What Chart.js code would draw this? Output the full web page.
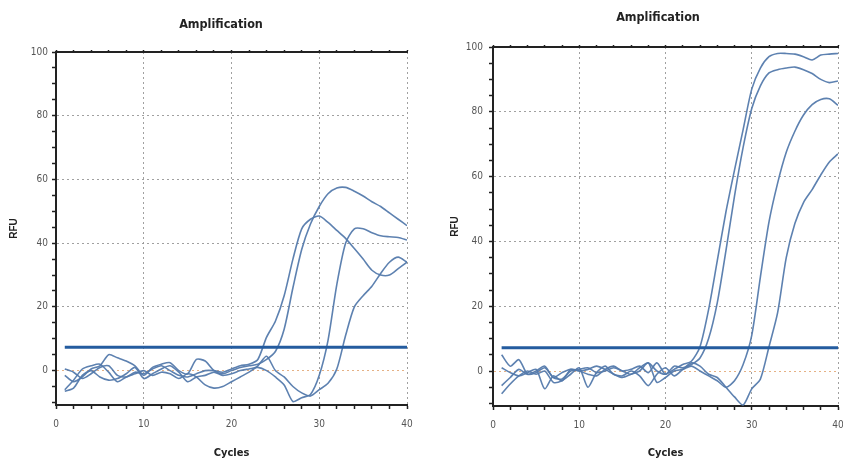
<!DOCTYPE html>
<html>
<head>
<meta charset="utf-8">
<script src="https://cdn.jsdelivr.net/npm/chart.js@4.4.1/dist/chart.umd.min.js"></script>
<style>
  html, body { margin: 0; padding: 0; background: #fff; }
  #wrap { position: relative; width: 843px; height: 466px; overflow: hidden; }
  canvas { position: absolute; top: 0; }
  #left { left: 0; }
  #right { left: 420px; }
</style>
</head>
<body>
<div id="wrap">
  <canvas id="left" width="420" height="466"></canvas>
  <canvas id="right" width="430" height="466"></canvas>
</div>
<script>
// cycle numbers and axis ticks
var cycles = [1, 2, 3, 4, 5, 6, 7, 8, 9, 10, 11, 12, 13, 14, 15, 16, 17, 18, 19, 20,
              21, 22, 23, 24, 25, 26, 27, 28, 29, 30, 31, 32, 33, 34, 35, 36, 37, 38, 39, 40];
var xTicks = [0, 2, 4, 6, 8, 10, 12, 14, 16, 18, 20, 22, 24, 26, 28, 30, 32, 34, 36, 38, 40];
var yTicks = [-10, -5, 0, 5, 10, 15, 20, 25, 30, 35, 40, 45, 50, 55, 60, 65, 70, 75, 80, 85, 90, 95, 100];

// left plot, RFU per cycle
var leftA = [0.5, -0.5, -2.5, -1, 1, 1.5, -1.5, -2, -0.5, -1, 0.5, 1.5, 0, -1.5, -2, -1, 0, 0, -0.5, 0.5, 1.5, 2,
             3.5, 10.5, 15.5, 23.5, 35, 44.5, 47.5, 48.5, 46.5, 44, 41.5, 38.3, 35, 31.5, 30, 30, 32, 34];
var leftB = [-1.5, -3.5, -2, 0.5, 1.5, 5, 4, 3, 1.5, -1.5, 1, 2, 2.5, 0, -1, 3.5, 3, 0, -1, 0, 1, 1.5,
             2, 3.5, 6, 13, 26, 38, 46, 51.5, 55.5, 57.3, 57.5, 56.3, 54.8, 53, 51.5, 49.5, 47.5, 45.5];
var leftC = [-6.5, -5.5, -1.5, 0, -2, -3, -2.5, -1, 1, -2.5, -1, 0.5, 1.5, -0.5, -3.5, -2, -1.5, -0.5, -1.5, -1, 0, 0.5,
             1, 0, -2, -4.5, -9.7, -8.5, -7.5, -1.5, 9.5, 27, 40, 44.5, 44.5, 43.3, 42.3, 42, 41.8, 41];
var leftD = [-6, -3, 0.5, 1.5, 2, -0.5, -3.5, -2, -1, 0, -1.5, -0.5, -1, -2.5, -1, -2, -4.5, -5.5, -5, -3.5, -2, -0.5,
             1.5, 4.5, 0, -2, -5, -7, -8, -6, -4, 0.5, 11, 20, 23.5, 26.5, 30.5, 34, 35.6, 34];
var leftThreshold = 7.3;

// right plot, RFU per cycle
var rightE = [5, 1.5, 3.5, -1, -0.5, 1, -2, -2.5, 0, 0.5, 1, -0.5, 0, 1, 0, -1, 1, 2.5, 0, -1, 0.5, 2, 3,
              7.5, 19, 34, 49, 62, 74.5, 87, 93.5, 97, 98, 98, 97.8, 97, 96, 97.5, 97.8, 98];
var rightF = [1, -0.5, -1.5, -0.5, 0.5, -5.5, -1.5, -3, 0.5, 0, -1, -1.5, 0.5, 1.5, 0, 0.5, 1.5, -0.5, 2.5, -1, 1.5, 1, 2,
              4, 10, 21, 37, 54, 69, 81, 88, 92, 93, 93.5, 93.8, 93, 91.8, 90, 89, 89.5];
var rightG = [-4.5, -2, 0.5, -1, 0, 1.5, -2, -0.5, 0.5, 0, 0.5, 1.5, 0.5, -1, -2, -1, 0, 2.5, -3.5, -2, 0, 0.5, 1.5,
              0, -1.5, -3, -5, -3, 2, 11, 29, 46, 58, 67.5, 74, 79, 82.2, 83.8, 84, 82];
var rightH = [-7, -4, -1.5, 0, -1, 0, -3.5, -3, -1, 1, -5, -0.5, 1.5, -1, -1.5, 0, -1.5, -4.5, -1, 1, -1.5, 0.5, 2.5,
              1.5, -1, -2, -5, -8, -10.5, -5.5, -2.5, 7.5, 18, 35, 45.5, 52, 56, 60.5, 64.5, 67];
var rightThreshold = 7.2;

var narrow = "'DejaVu Sans Condensed', 'Liberation Sans', sans-serif";
var curveColor = 'rgba(84, 122, 172, 0.95)';
var gridColor = 'rgba(150, 150, 150, 0.9)';
var zeroColor = 'rgba(226, 168, 120, 0.9)';

function makeChart(id, series, threshold, lay) {
  var datasets = [{
    data: [{ x: cycles[0], y: threshold }, { x: cycles[cycles.length - 1], y: threshold }],
    borderColor: '#245c9f',
    borderWidth: 3,
    pointRadius: 0
  }];
  series.forEach(function (s) {
    datasets.push({
      data: cycles.map(function (c, i) { return { x: c, y: s[i] }; }),
      borderColor: curveColor,
      borderWidth: 1.6,
      pointRadius: 0,
      tension: 0.25
    });
  });

  return new Chart(document.getElementById(id), {
    type: 'line',
    data: { datasets: datasets },
    options: {
      responsive: false,
      animation: false,
      devicePixelRatio: 1,
      layout: { padding: { left: lay.padLeft, right: lay.padRight, top: 0, bottom: 0 } },
      plugins: {
        legend: { display: false },
        tooltip: { enabled: false },
        title: {
          display: true,
          text: 'Amplification',
          color: '#222',
          font: { family: narrow, size: 12.5, weight: 'bold' },
          padding: { top: lay.titleTop, bottom: lay.titleBottom }
        }
      },
      scales: {
        x: {
          type: 'linear',
          min: 0,
          max: 40,
          afterBuildTicks: function (s) { s.ticks = xTicks.map(function (v) { return { value: v }; }); },
          afterFit: function (s) { s.height = lay.xHeight; s.paddingLeft = 0; s.paddingRight = 0; },
          ticks: {
            autoSkip: false,
            maxRotation: 0,
            padding: 9,
            color: '#555',
            font: { family: narrow, size: 10 },
            callback: function (v) { return v % 10 === 0 ? v : ''; }
          },
          grid: {
            color: function (ctx) { return ctx.tick && ctx.tick.value % 10 === 0 ? gridColor : 'rgba(0,0,0,0)'; },
            tickColor: '#222',
            tickLength: 4,
            tickWidth: 1.5
          },
          border: { display: true, color: '#222', width: 2, dash: [2, 3] },
          title: {
            display: true,
            text: 'Cycles',
            color: '#222',
            font: { family: narrow, size: 11, weight: 'bold' },
            padding: { top: 0, bottom: 6 }
          }
        },
        xTop: {
          type: 'linear',
          position: 'top',
          min: 0,
          max: 40,
          afterBuildTicks: function (s) { s.ticks = xTicks.map(function (v) { return { value: v }; }); },
          afterFit: function (s) { s.height = 0; s.paddingLeft = 0; s.paddingRight = 0; },
          ticks: { display: false },
          grid: { color: 'rgba(0,0,0,0)', tickColor: '#222', tickLength: 2, tickWidth: 1.5 },
          border: { display: true, color: '#222', width: 2 }
        },
        y: {
          min: -10.8,
          max: 100,
          afterBuildTicks: function (s) { s.ticks = yTicks.map(function (v) { return { value: v }; }); },
          afterFit: function (s) { s.width = lay.yWidth; s.paddingTop = 0; s.paddingBottom = 0; },
          ticks: {
            autoSkip: false,
            padding: lay.yTickPad,
            color: '#555',
            font: { family: narrow, size: 10 },
            callback: function (v) { return v % 20 === 0 ? v : ''; }
          },
          grid: {
            color: function (ctx) {
              if (!ctx.tick || ctx.tick.value % 20 !== 0) return 'rgba(0,0,0,0)';
              return ctx.tick.value === 0 ? zeroColor : gridColor;
            },
            tickColor: '#222',
            tickLength: 4,
            tickWidth: 1.5
          },
          border: { display: true, color: '#222', width: 2, dash: [2, 3] },
          title: {
            display: true,
            text: 'RFU',
            color: '#222',
            font: { family: "'Liberation Sans', Arial, sans-serif", size: 10, weight: 'bold' },
            padding: { top: lay.rfuPad, bottom: 0 }
          }
        },
        // empty strip on the right, only used to place the title like the original
        ySpace: {
          position: 'right',
          afterFit: function (s) { s.width = lay.rightSpace; s.paddingTop = 0; s.paddingBottom = 0; },
          ticks: { display: false },
          grid: { display: false },
          border: { display: false }
        }
      }
    }
  });
}

makeChart('left', [leftA, leftB, leftC, leftD], leftThreshold, {
  padLeft: 30, padRight: 8, rightSpace: 5, titleTop: 17, titleBottom: 20,
  xHeight: 61, yWidth: 26, yTickPad: 4, rfuPad: -22
});
makeChart('right', [rightE, rightF, rightG, rightH], rightThreshold, {
  padLeft: 46, padRight: 0, rightSpace: 12, titleTop: 10, titleBottom: 22,
  xHeight: 60, yWidth: 27, yTickPad: 6, rfuPad: -17
});
</script>
</body>
</html>
